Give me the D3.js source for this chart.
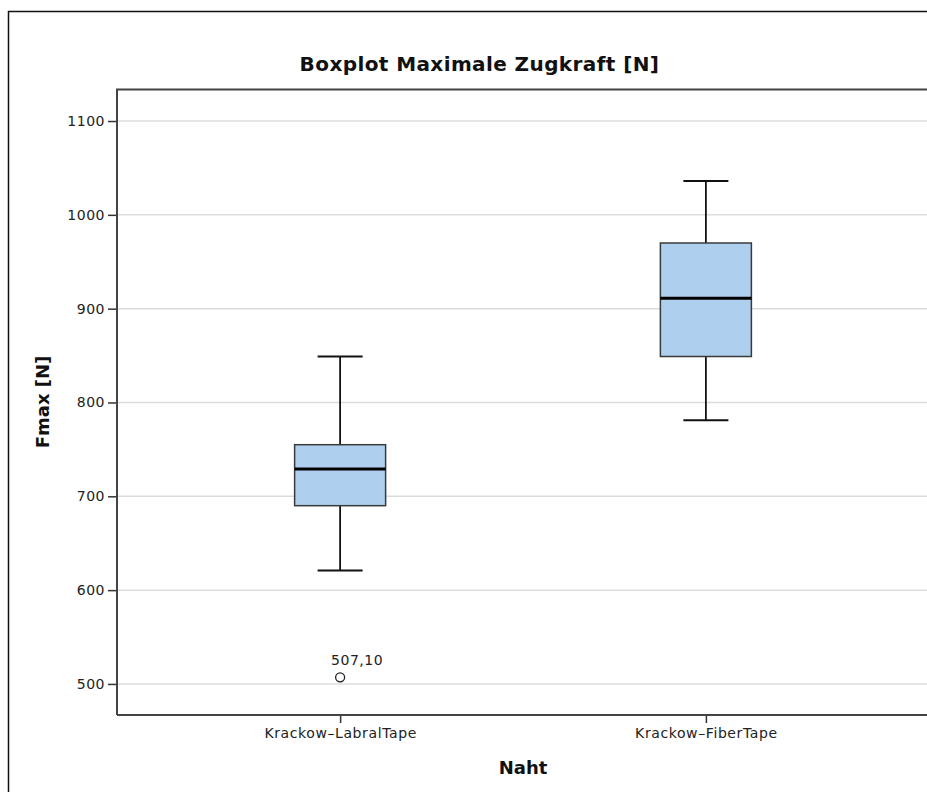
<!DOCTYPE html>
<html><head><meta charset="utf-8">
<script src="https://cdn.jsdelivr.net/npm/d3@7"></script>
<style>body{margin:0;background:#fff;} svg{display:block;}</style>
</head><body>
<script>
const categories = ["Krackow–LabralTape", "Krackow–FiberTape"];
const whiskerLow = [621, 781];
const q1 = [690, 849];
const median = [729, 911];
const q3 = [755, 970];
const whiskerHigh = [849, 1036];
const outliers = [{cat: 0, value: 507.10, label: "507,10"}];
const yTicks = [500, 600, 700, 800, 900, 1000, 1100];

const W = 927, H = 792;
const svg = d3.select("body").append("svg").attr("width", W).attr("height", H);
const font = "'DejaVu Sans', Verdana, sans-serif";

// outer frame
svg.append("rect").attr("x", 8.5).attr("y", 11.5).attr("width", 960).attr("height", 820)
  .attr("fill", "none").attr("stroke", "#111").attr("stroke-width", 1.5);

const L = 117, R = 929, T = 89.5, B = 715;
const y = d3.scaleLinear().domain([466.9, 1133.6]).range([B, T]);
const x = d3.scalePoint().domain(categories).range([L, R]).padding(0.61);

// gridlines
svg.append("g").selectAll("line").data(yTicks).join("line")
  .attr("x1", L).attr("x2", R).attr("y1", d => y(d)).attr("y2", d => y(d))
  .attr("stroke", "#dcdcdc").attr("stroke-width", 1.5);

// y axis
const yAxis = svg.append("g").attr("transform", `translate(${L},0)`)
  .call(d3.axisLeft(y).tickValues(yTicks).tickSize(9).tickPadding(3).tickFormat(d3.format("d")));
yAxis.select(".domain").remove();
yAxis.selectAll(".tick line").attr("stroke", "#333").attr("stroke-width", 1.5);
yAxis.selectAll("text").attr("font-family", font).attr("font-size", 14).attr("letter-spacing", "0.5px").attr("fill", "#222");

// x axis
const xAxis = svg.append("g").attr("transform", `translate(0,${B})`)
  .call(d3.axisBottom(x).tickSize(8).tickPadding(5));
xAxis.select(".domain").remove();
xAxis.selectAll(".tick line").attr("stroke", "#333").attr("stroke-width", 1.5).attr("y1", -1).attr("y2", 8);
xAxis.selectAll("text").attr("font-family", font).attr("font-size", 14).attr("letter-spacing", "0.6px").attr("fill", "#222");

// plot frame
svg.append("path").attr("d", `M${L},${B}H${R+5}M${L},${B}V${T}H${R+5}`)
  .attr("fill", "none").attr("stroke", "#444").attr("stroke-width", 2);

// boxes
const boxW = 91, capW = 45;
const g = svg.append("g");
categories.forEach((c, i) => {
  const cx = x(c);
  g.append("line").attr("x1", cx).attr("x2", cx).attr("y1", y(whiskerHigh[i])).attr("y2", y(q3[i]))
    .attr("stroke", "#111").attr("stroke-width", 1.8);
  g.append("line").attr("x1", cx).attr("x2", cx).attr("y1", y(q1[i])).attr("y2", y(whiskerLow[i]))
    .attr("stroke", "#111").attr("stroke-width", 1.8);
  g.append("line").attr("x1", cx - capW/2).attr("x2", cx + capW/2).attr("y1", y(whiskerHigh[i])).attr("y2", y(whiskerHigh[i]))
    .attr("stroke", "#111").attr("stroke-width", 2);
  g.append("line").attr("x1", cx - capW/2).attr("x2", cx + capW/2).attr("y1", y(whiskerLow[i])).attr("y2", y(whiskerLow[i]))
    .attr("stroke", "#111").attr("stroke-width", 2);
  g.append("rect").attr("x", cx - boxW/2).attr("y", y(q3[i])).attr("width", boxW).attr("height", y(q1[i]) - y(q3[i]))
    .attr("fill", "#aecfed").attr("stroke", "#3a3a3a").attr("stroke-width", 1.5);
  g.append("line").attr("x1", cx - boxW/2).attr("x2", cx + boxW/2).attr("y1", y(median[i])).attr("y2", y(median[i]))
    .attr("stroke", "#000").attr("stroke-width", 3);
});

// outliers
outliers.forEach(o => {
  const cx = x(categories[o.cat]);
  g.append("circle").attr("cx", cx).attr("cy", y(o.value)).attr("r", 4.5)
    .attr("fill", "#fff").attr("stroke", "#222").attr("stroke-width", 1.3);
  g.append("text").attr("x", cx - 9).attr("y", y(o.value) - 12).text(o.label)
    .attr("font-family", font).attr("font-size", 14).attr("letter-spacing", "0.5px").attr("fill", "#222");
});

// titles
svg.append("text").attr("x", 479.5).attr("y", 71).attr("text-anchor", "middle")
  .attr("font-family", font).attr("font-weight", "bold").attr("font-size", 20).attr("letter-spacing", "0.4px").attr("fill", "#111")
  .text("Boxplot Maximale Zugkraft [N]");
svg.append("text").attr("x", 523).attr("y", 774).attr("text-anchor", "middle")
  .attr("font-family", font).attr("font-weight", "bold").attr("font-size", 18).attr("fill", "#111")
  .text("Naht");
svg.append("text").attr("transform", "translate(49,402) rotate(-90)").attr("text-anchor", "middle")
  .attr("font-family", font).attr("font-weight", "bold").attr("font-size", 18).attr("fill", "#111")
  .text("Fmax [N]");
</script>
</body></html>
